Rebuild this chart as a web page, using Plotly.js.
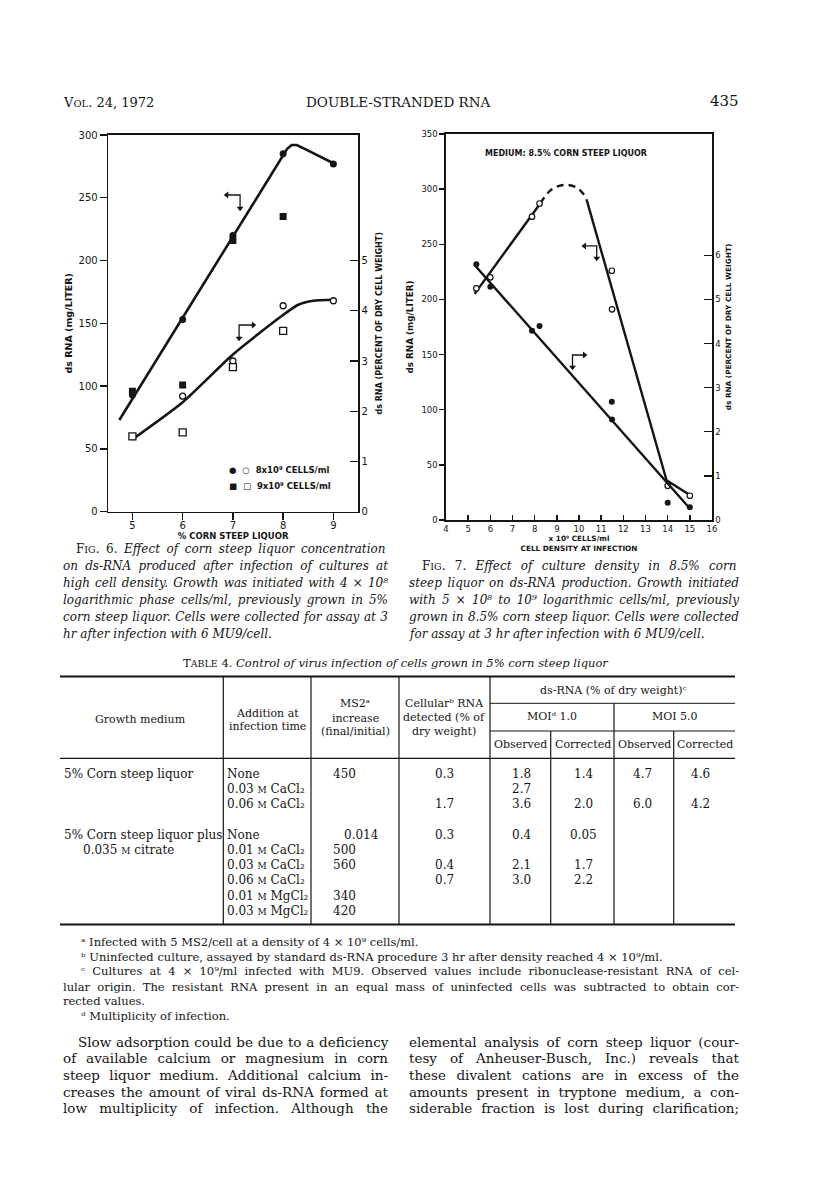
<!DOCTYPE html>
<html>
<head>
<meta charset="utf-8">
<script src="https://cdn.plot.ly/plotly-3.0.1.min.js"></script>
<style>body{margin:0;background:#fff}#plot{width:816px;height:1202px}</style>
</head>
<body>
<div id="plot"></div>
<script>
// Fig. 6: yield against % corn steep liquor
var fig6Conc = [5, 6, 7, 8, 9];
var fig6Cells8Yield = [93, 153, 220, 285, 277];      // filled circles, mg/liter
var fig6Cells8Pct = [1.5, 2.3, 3.0, 4.1, 4.2];       // open circles, % dry weight
var fig6Cells9Conc = [5, 6, 7, 8];
var fig6Cells9Yield = [96, 101, 216, 235];           // filled squares, mg/liter
var fig6Cells9Pct = [1.5, 1.58, 2.88, 3.6];          // open squares, % dry weight
var fig6YieldCurveX = [4.74, 8.0, 8.08, 8.17, 8.27, 8.4, 9.0];
var fig6YieldCurveY = [73, 283, 289, 292, 292, 289.5, 277.5];
var fig6PctCurveX = [5.0, 6.0, 7.0, 7.95, 8.3, 8.6, 9.0];
var fig6PctCurveY = [1.44, 2.18, 3.13, 3.88, 4.12, 4.2, 4.22];

// Fig. 7: yield against cell density (x 10^9 cells/ml)
var fig7Density = [5.37, 6.0, 7.88, 8.22, 11.48, 11.49, 14.0, 15.0];
var fig7Yield = [210, 220, 275, 287, 226, 191, 31, 22];          // open circles, mg/liter
var fig7Pct = [5.8, 5.29, 4.29, 4.4, 2.68, 2.28, 0.39, 0.29];    // filled circles, % dry weight
var fig7RiseX = [5.29, 8.25];
var fig7RiseY = [205, 287];
var fig7PeakX = [8.25, 8.7, 9.15, 9.52, 9.9, 10.2, 10.35];
var fig7PeakY = [287, 298.7, 303.2, 303.8, 301.4, 295.6, 290];
var fig7FallX = [10.35, 13.95, 15.0];
var fig7FallY = [290, 36, 22.7];
var fig7PctLineX = [5.29, 15.0];
var fig7PctLineY = [5.78, 0.26];

// Table 4
var growthMedium = ['5% Corn steep liquor', '5% Corn steep liquor plus', '0.035 M citrate'];
var additions = ['None', '0.03 M CaCl2', '0.06 M CaCl2', 'None', '0.01 M CaCl2', '0.03 M CaCl2',
                 '0.06 M CaCl2', '0.01 M MgCl2', '0.03 M MgCl2'];
var ms2Increase = ['450', '', '', '0.014', '500', '560', '', '340', '420'];
var cellularRNA = ['0.3', '', '1.7', '0.3', '', '0.4', '0.7', '', ''];
var moi1Observed = ['1.8', '2.7', '3.6', '0.4', '', '2.1', '3.0', '', ''];
var moi1Corrected = ['1.4', '', '2.0', '0.05', '', '1.7', '2.2', '', ''];
var moi5Observed = ['4.7', '', '6.0', '', '', '', '', '', ''];
var moi5Corrected = ['4.6', '', '4.2', '', '', '', '', '', ''];

var W = 816, H = 1202;
var SERIF = 'DejaVu Serif', SANS = 'DejaVu Sans', INK = '#141414';
function px(x) { return x / W; }
function py(y) { return 1 - y / H; }

var ctx = document.createElement('canvas').getContext('2d');
function plain(s) { return s.replace(/<[^>]+>/g, ''); }
function justify(html, font, width) {
  ctx.font = font;
  var t = plain(html);
  var gaps = (t.match(/ /g) || []).length;
  if (!gaps) return html;
  var ws = (width - ctx.measureText(t).width) / gaps;
  return '<span style="word-spacing:' + ws.toFixed(2) + 'px">' + html + '</span>';
}
function note(x, y, text, size, anchor, family, weight) {
  return {xref: 'paper', yref: 'paper', x: px(x), y: py(y), text: text, showarrow: false,
          xanchor: anchor || 'left', yanchor: 'middle', borderpad: 0,
          font: {family: family || SERIF, size: size, color: INK, weight: weight || 'normal'}};
}
function sc(s, size) { return '<span style="font-size:' + size + 'px">' + s + '</span>'; }

var anns = [];

// running head
anns.push(note(62, 102, 'V' + sc('OL', 10) + '. 24, 1972', 13));
anns.push(note(398, 102, 'DOUBLE-STRANDED RNA', 13.5, 'center'));
anns.push(note(740, 101, '435', 15, 'right'));

// captions
var capLeft = [
  'F' + sc('IG', 9.5) + '. 6. <i>Effect of corn steep liquor concentration</i>',
  '<i>on ds-RNA produced after infection of cultures at</i>',
  '<i>high cell density. Growth was initiated with 4 × 10⁸</i>',
  '<i>logarithmic phase cells/ml, previously grown in 5%</i>',
  '<i>corn steep liquor. Cells were collected for assay at 3</i>',
  '<i>hr after infection with 6 MU9/cell.</i>'
];
var capRight = [
  'F' + sc('IG', 9.5) + '. 7. <i>Effect of culture density in 8.5% corn</i>',
  '<i>steep liquor on ds-RNA production. Growth initiated</i>',
  '<i>with 5 × 10⁸ to 10⁹ logarithmic cells/ml, previously</i>',
  '<i>grown in 8.5% corn steep liquor. Cells were collected</i>',
  '<i>for assay at 3 hr after infection with 6 MU9/cell.</i>'
];
var capFont = 'italic 12px "DejaVu Serif"';
capLeft.forEach(function (t, i) {
  var x0 = i === 0 ? 75 : 62;
  var txt = i < capLeft.length - 1 ? justify(t, capFont, 387 - x0) : t;
  anns.push(note(x0, 549 + 17 * i, txt, 12));
});
capRight.forEach(function (t, i) {
  var x0 = i === 0 ? 421 : 408;
  var txt = i < capRight.length - 1 ? justify(t, capFont, 738 - x0) : t;
  anns.push(note(x0, 566 + 17 * i, txt, 12));
});

// table title and header
anns.push(note(395.5, 663, 'T' + sc('ABLE', 9.5) + ' 4. <i>Control of virus infection of cells grown in 5% corn steep liquor</i>', 11.5, 'center'));
anns.push(note(140, 719, 'Growth medium', 11, 'center'));
anns.push(note(267, 713, 'Addition at', 11, 'center'));
anns.push(note(267, 726, 'infection time', 11, 'center'));
anns.push(note(355, 703.5, 'MS2ᵃ', 11, 'center'));
anns.push(note(355, 718, 'increase', 11, 'center'));
anns.push(note(355, 731.5, '(final/initial)', 11, 'center'));
anns.push(note(444.5, 703.5, 'Cellularᵇ RNA', 11, 'center'));
anns.push(note(444.5, 717.5, 'detected (% of', 11, 'center'));
anns.push(note(444.5, 731.5, 'dry weight)', 11, 'center'));
anns.push(note(612.5, 690.5, 'ds-RNA (% of dry weight)ᶜ', 11, 'center'));
anns.push(note(552, 716.5, 'MOIᵈ 1.0', 11, 'center'));
anns.push(note(674.5, 716.5, 'MOI 5.0', 11, 'center'));
['Observed', 'Corrected', 'Observed', 'Corrected'].forEach(function (t, i) {
  anns.push(note([520.5, 582.5, 644, 704.5][i], 744.5, t, 11, 'center'));
});

// table body
function chem(t) {
  return t.replace(' M ', ' ' + sc('M', 9) + ' ').replace(/l2$/, 'l₂');
}
var rowY = [773.5, 789, 804, 835, 850, 865, 880, 895.5, 910.5];
anns.push(note(63, rowY[0], growthMedium[0], 12));
anns.push(note(63, rowY[3], growthMedium[1], 12));
anns.push(note(81.5, rowY[4], chem(growthMedium[2]), 12));
additions.forEach(function (t, i) { anns.push(note(225.5, rowY[i], chem(t), 12)); });
ms2Increase.forEach(function (t, i) {
  if (t) anns.push(note(t.indexOf('.') >= 0 ? 380 : 357, rowY[i], t, 12, 'right'));
});
[cellularRNA, moi1Observed, moi1Corrected, moi5Observed, moi5Corrected].forEach(function (col, c) {
  var cx = [444.5, 521.5, 583.5, 642.5, 700.5][c];
  col.forEach(function (t, i) { if (t) anns.push(note(cx, rowY[i], t, 12, 'center')); });
});

// footnotes
var fnFont = '11.5px "DejaVu Serif"';
anns.push(note(80, 941.5, 'ᵃ Infected with 5 MS2/cell at a density of 4 × 10⁹ cells/ml.', 11.5));
anns.push(note(80, 956.5, 'ᵇ Uninfected culture, assayed by standard ds-RNA procedure 3 hr after density reached 4 × 10⁹/ml.', 11.5));
anns.push(note(80, 971.5, justify('ᶜ Cultures at 4 × 10⁹/ml infected with MU9. Observed values include ribonuclease-resistant RNA of cel-', fnFont, 658), 11.5));
anns.push(note(62, 986.5, justify('lular origin. The resistant RNA present in an equal mass of uninfected cells was subtracted to obtain cor-', fnFont, 676), 11.5));
anns.push(note(62, 1001.3, 'rected values.', 11.5));
anns.push(note(80, 1016.3, 'ᵈ Multiplicity of infection.', 11.5));

// body text
var parFont = '13.5px "DejaVu Serif"';
var parLeft = [
  'Slow adsorption could be due to a deficiency',
  'of available calcium or magnesium in corn',
  'steep liquor medium. Additional calcium in-',
  'creases the amount of viral ds-RNA formed at',
  'low multiplicity of infection. Although the'
];
var parRight = [
  'elemental analysis of corn steep liquor (cour-',
  'tesy of Anheuser-Busch, Inc.) reveals that',
  'these divalent cations are in excess of the',
  'amounts present in tryptone medium, a con-',
  'siderable fraction is lost during clarification;'
];
parLeft.forEach(function (t, i) {
  var x0 = i === 0 ? 76.5 : 62;
  anns.push(note(x0, 1041.7 + 16.65 * i, justify(t, parFont, 387 - x0), 13.5));
});
parRight.forEach(function (t, i) {
  anns.push(note(408, 1041.7 + 16.65 * i, justify(t, parFont, 330), 13.5));
});

// text inside the plots
anns.push(note(228, 470, '●  ○  8x10⁹ CELLS/ml', 8.5, 'left', SANS, 'bold'));
anns.push(note(228, 486.5, '■  □  9x10⁹ CELLS/ml', 8.5, 'left', SANS, 'bold'));
anns.push(note(566, 153.3, 'MEDIUM: 8.5% CORN STEEP LIQUOR', 8, 'center', SANS, 'bold'));

// table rules
function hl(y, x0, x1, w) {
  return {type: 'line', xref: 'paper', yref: 'paper', x0: px(x0), x1: px(x1), y0: py(y), y1: py(y), line: {color: INK, width: w}};
}
function vl(x, y0, y1, w) {
  return {type: 'line', xref: 'paper', yref: 'paper', x0: px(x), x1: px(x), y0: py(y0), y1: py(y1), line: {color: INK, width: w}};
}
var shapes = [
  hl(676.5, 60, 735, 2), hl(758.3, 60, 735, 1.2), hl(924.5, 60, 735, 2),
  hl(703.3, 490, 735, 1), hl(731, 490, 735, 1),
  vl(223.3, 676.5, 924.5, 1.2), vl(311, 676.5, 924.5, 1.2), vl(399, 676.5, 924.5, 1.2), vl(490, 676.5, 924.5, 1.2),
  vl(614, 703.3, 924.5, 1.2), vl(550.7, 731, 924.5, 1.2), vl(673.7, 731, 924.5, 1.2)
];

// bent arrows telling which axis each curve belongs to
function arrowTraces(xa, ya, xs, ys, heads) {
  return [
    {x: xs, y: ys, xaxis: xa, yaxis: ya, mode: 'lines', line: {color: INK, width: 1.3}, hoverinfo: 'skip'},
    {x: [xs[0], xs[2]], y: [ys[0], ys[2]], xaxis: xa, yaxis: ya, mode: 'markers',
     marker: {symbol: heads, size: 6, color: INK}, hoverinfo: 'skip'}
  ];
}

var traces = [
  {x: fig6YieldCurveX, y: fig6YieldCurveY, xaxis: 'x', yaxis: 'y', mode: 'lines', line: {color: INK, width: 2.6}},
  {x: fig6PctCurveX, y: fig6PctCurveY, xaxis: 'x', yaxis: 'y2', mode: 'lines', line: {color: INK, width: 2.6, shape: 'spline', smoothing: 0.6}},
  {x: fig6Conc, y: fig6Cells8Yield, xaxis: 'x', yaxis: 'y', mode: 'markers', name: '8x10^9 cells/ml', marker: {symbol: 'circle', size: 7, color: INK}},
  {x: fig6Cells9Conc, y: fig6Cells9Yield, xaxis: 'x', yaxis: 'y', mode: 'markers', name: '9x10^9 cells/ml', marker: {symbol: 'square', size: 7, color: INK}},
  {x: fig6Conc, y: fig6Cells8Pct, xaxis: 'x', yaxis: 'y2', mode: 'markers', marker: {symbol: 'circle', size: 6, color: '#fff', line: {color: INK, width: 1.3}}},
  {x: fig6Cells9Conc, y: fig6Cells9Pct, xaxis: 'x', yaxis: 'y2', mode: 'markers', marker: {symbol: 'square', size: 7, color: '#fff', line: {color: INK, width: 1.3}}},

  {x: fig7RiseX, y: fig7RiseY, xaxis: 'x2', yaxis: 'y3', mode: 'lines', line: {color: INK, width: 2.4}},
  {x: fig7PeakX, y: fig7PeakY, xaxis: 'x2', yaxis: 'y3', mode: 'lines', line: {color: INK, width: 2.4, dash: '7px,5px', shape: 'spline'}},
  {x: fig7FallX, y: fig7FallY, xaxis: 'x2', yaxis: 'y3', mode: 'lines', line: {color: INK, width: 2.4}},
  {x: fig7PctLineX, y: fig7PctLineY, xaxis: 'x2', yaxis: 'y4', mode: 'lines', line: {color: INK, width: 2.4}},
  {x: fig7Density, y: fig7Yield, xaxis: 'x2', yaxis: 'y3', mode: 'markers', marker: {symbol: 'circle', size: 5.5, color: '#fff', line: {color: INK, width: 1.2}}},
  {x: fig7Density, y: fig7Pct, xaxis: 'x2', yaxis: 'y4', mode: 'markers', marker: {symbol: 'circle', size: 6, color: INK}}
]
  .concat(arrowTraces('x', 'y', [6.877, 7.143, 7.143], [252.2, 252.2, 241.6], ['triangle-left', 'triangle-down']))
  .concat(arrowTraces('x', 'y', [7.408, 7.123, 7.123], [148.7, 148.7, 138.1], ['triangle-right', 'triangle-down']))
  .concat(arrowTraces('x2', 'y3', [10.245, 10.8, 10.8], [248.5, 248.5, 237.3], ['triangle-left', 'triangle-down']))
  .concat(arrowTraces('x2', 'y3', [10.245, 9.707, 9.707], [149.6, 149.6, 138.5], ['triangle-right', 'triangle-down']));

function frame(extra) {
  var a = {showline: true, linecolor: INK, linewidth: 1.6, tickcolor: INK, tickwidth: 1.4,
           showgrid: false, zeroline: false, color: INK};
  for (var k in extra) a[k] = extra[k];
  return a;
}
var bold = function (size) { return {size: size, weight: 'bold'}; };

var layout = {
  width: W, height: H,
  margin: {l: 0, r: 0, t: 0, b: 0},
  paper_bgcolor: '#fff', plot_bgcolor: 'rgba(0,0,0,0)',
  showlegend: false,
  font: {family: SANS, color: INK},
  xaxis: frame({domain: [px(108.3), px(358)], anchor: 'y', range: [4.52, 9.49], dtick: 1,
    ticks: 'outside', ticklen: 7, mirror: true, tickfont: {size: 10}, ticklabelstandoff: -3,
    title: {text: '% CORN STEEP LIQUOR', font: bold(8.5), standoff: 1}}),
  yaxis: frame({domain: [py(511.7), py(135)], anchor: 'x', range: [0, 300], dtick: 50,
    ticks: 'outside', ticklen: 7, tickfont: {size: 10},
    title: {text: 'ds RNA (mg/LITER)', font: bold(9.5), standoff: 4}}),
  yaxis2: frame({overlaying: 'y', anchor: 'x', side: 'right', range: [0, 7.5], tickvals: [0, 1, 2, 3, 4, 5],
    ticks: 'inside', ticklen: 8, tickfont: {size: 10},
    title: {text: 'ds RNA (PERCENT OF DRY CELL WEIGHT)', font: bold(8), standoff: 9}}),
  xaxis2: frame({domain: [px(446), px(712)], anchor: 'y3', range: [4, 16], dtick: 1,
    ticks: 'inside', ticklen: 5, mirror: true, tickfont: {size: 8.5},
    title: {text: 'x 10⁹ CELLS/ml<br>CELL DENSITY AT INFECTION', font: bold(7.3), standoff: 3}}),
  yaxis3: frame({domain: [py(520), py(134)], anchor: 'x2', range: [0, 350], dtick: 50,
    ticks: 'outside', ticklen: 5, tickfont: {size: 8.5},
    title: {text: 'ds RNA (mg/LITER)', font: bold(8.8), standoff: 6}}),
  yaxis4: frame({overlaying: 'y3', anchor: 'x2', side: 'right', range: [0, 8.75], tickvals: [0, 1, 2, 3, 4, 5, 6],
    ticks: 'inside', ticklen: 8, tickfont: {size: 8.5},
    title: {text: 'ds RNA (PERCENT OF DRY CELL WEIGHT)', font: bold(7.3), standoff: 6}}),
  annotations: anns,
  shapes: shapes
};

Plotly.newPlot('plot', traces, layout, {displayModeBar: false, staticPlot: true});
</script>
</body>
</html>
